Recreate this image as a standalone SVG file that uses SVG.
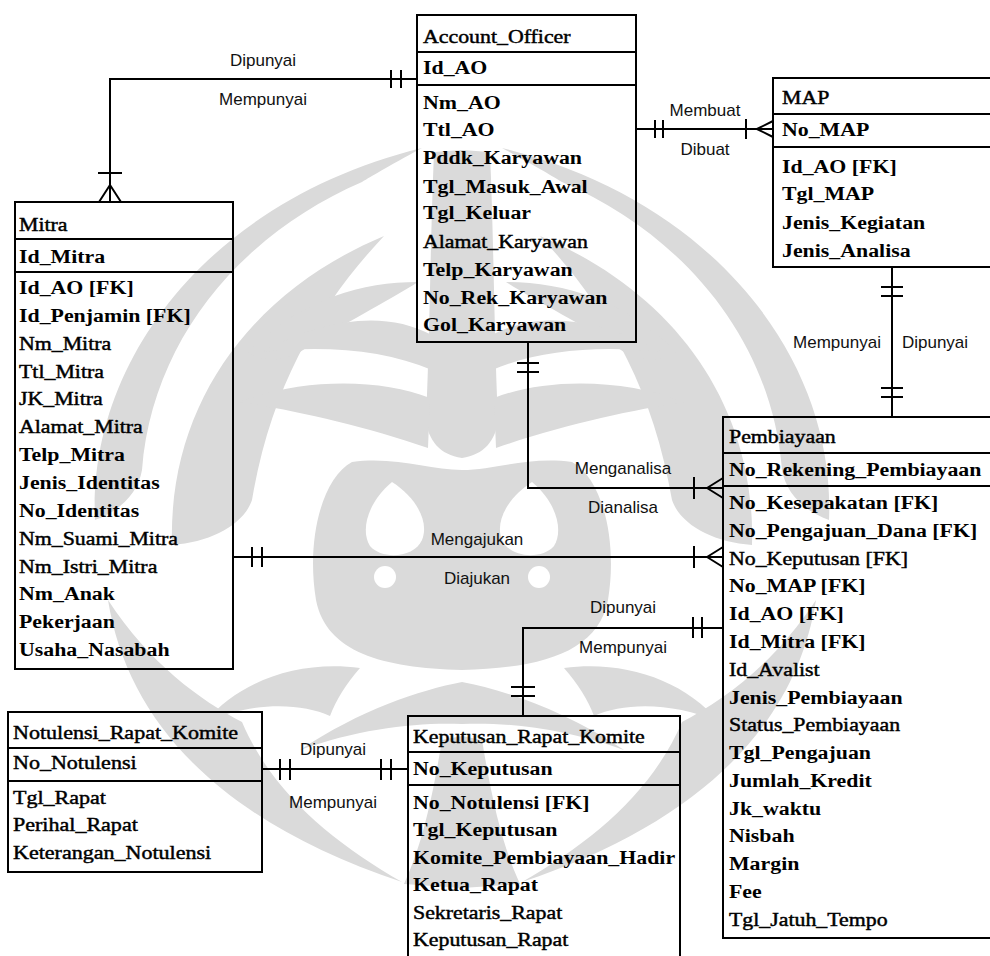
<svg xmlns="http://www.w3.org/2000/svg" xmlns:xlink="http://www.w3.org/1999/xlink" width="990" height="956" viewBox="0 0 990 956">
  <style>
    .box{fill:none;stroke:#000;stroke-width:2}
    .sep{stroke:#000;stroke-width:2}
    .ln{fill:none;stroke:#000;stroke-width:2}
    .mk{fill:none;stroke:#000;stroke-width:2}
    .et{font-family:"Liberation Serif","Times New Roman",serif;font-size:19px;font-weight:bold;fill:#000}
    .et .r{font-weight:normal;stroke:#000;stroke-width:0.45}
    .lb{font-family:"Liberation Sans",Arial,sans-serif;font-size:17px;fill:#111;text-anchor:middle}
    .wm{fill:#dadada}
    .wh{fill:#fff}
  </style>
  <defs>
    <!-- left half of the background emblem; mirrored about x=462 -->
    <g id="emblemHalf">
      <!-- upper leaves -->
      <path class="wm" d="M95,520 C88,360 210,200 422,148 C385,168 372,176 362,182 C238,236 152,342 142,470 C138,492 122,510 95,520 Z"/>
      <path class="wm" d="M172,545 C168,405 250,292 384,236 C322,302 272,382 252,500 C244,524 212,542 172,545 Z"/>
      <path class="wm" d="M248,352 C300,300 360,282 418,282 C390,300 340,325 300,352 C282,362 262,362 248,352 Z"/>
      <!-- trunk and branching arms -->
      <path class="wm" d="M462,150 L434,152 C430,250 430,330 426,420 C428,440 440,455 462,458 Z"/>
      <path class="wm" d="M430,398 C380,378 300,378 240,402 C292,410 362,425 428,448 Z"/>
      <path class="wm" d="M432,335 C385,310 325,318 262,352 C325,345 385,350 432,370 Z"/>
      <!-- bell with curled eye -->
      <path class="wm" d="M462,470 C430,470 395,456 352,462 C322,478 306,540 316,600 C326,652 382,668 462,670 Z"/>
      <path class="wh" d="M392,482 C368,502 360,530 370,546 C382,560 414,558 422,540 C430,520 414,496 392,482 Z"/>
      <circle class="wh" cx="385" cy="577" r="11"/>
      <!-- lower wings -->
      <path class="wm" d="M462,682 C420,690 360,710 300,750 C360,728 420,722 462,724 Z"/>
      <path class="wm" d="M360,668 C300,660 240,680 205,722 C250,702 300,702 330,716 C336,700 346,684 360,668 Z"/>
      <path class="wm" d="M108,600 C128,724 222,822 402,882 C332,842 272,792 242,722 C200,700 150,664 108,600 Z"/>
      <path class="wm" d="M462,736 L442,740 C432,800 422,845 404,884 L462,888 Z"/>
    </g>
  </defs>

  <!-- background emblem -->
  <g id="emblem">
    <use xlink:href="#emblemHalf"/>
    <use xlink:href="#emblemHalf" transform="matrix(-1 0 0 1 924 0)"/>
  </g>

  <!-- relationship lines -->
  <g id="connectors">
    <path class="ln" d="M417,79 H110 V202"/>
    <path class="ln" d="M636,129 H773"/>
    <path class="ln" d="M892,267 V417"/>
    <path class="ln" d="M528,342 V488 H723"/>
    <path class="ln" d="M233,557 H723"/>
    <path class="ln" d="M523,716 V628 H723"/>
    <path class="ln" d="M262,769 H408"/>

    <!-- cardinality marks -->
    <path class="mk" d="M391,70 V88 M401,70 V88"/>
    <path class="mk" d="M98,173 H122 M110,185 L99,202 M110,185 V202 M110,185 L121,202"/>

    <path class="mk" d="M655,120 V138 M663,120 V138"/>
    <path class="mk" d="M746,119 V139 M757,129 L773,121 M757,129 H773 M757,129 L773,137"/>

    <path class="mk" d="M881,287 H903 M881,296 H903"/>
    <path class="mk" d="M881,388 H903 M881,397 H903"/>

    <path class="mk" d="M517,363 H539 M517,372 H539"/>
    <path class="mk" d="M694,477 V499 M707,488 L723,478 M707,488 H723 M707,488 L723,498"/>

    <path class="mk" d="M252,547 V567 M262,547 V567"/>
    <path class="mk" d="M694,546 V568 M707,557 L723,547 M707,557 H723 M707,557 L723,567"/>

    <path class="mk" d="M693,617 V638 M702,617 V638"/>
    <path class="mk" d="M511,687 H535 M511,696 H535"/>

    <path class="mk" d="M280,759 V780 M290,759 V780"/>
    <path class="mk" d="M381,759 V780 M391,759 V780"/>

    <!-- verb phrases -->
    <text class="lb" x="263" y="66">Dipunyai</text>
    <text class="lb" x="263" y="105">Mempunyai</text>
    <text class="lb" x="705" y="116">Membuat</text>
    <text class="lb" x="705" y="155">Dibuat</text>
    <text class="lb" x="837" y="348">Mempunyai</text>
    <text class="lb" x="935" y="348">Dipunyai</text>
    <text class="lb" x="623" y="474">Menganalisa</text>
    <text class="lb" x="623" y="513">Dianalisa</text>
    <text class="lb" x="477" y="545">Mengajukan</text>
    <text class="lb" x="477" y="584">Diajukan</text>
    <text class="lb" x="623" y="613">Dipunyai</text>
    <text class="lb" x="623" y="653">Mempunyai</text>
    <text class="lb" x="333" y="755">Dipunyai</text>
    <text class="lb" x="333" y="808">Mempunyai</text>
  </g>

  <!-- Account_Officer -->
  <g id="account_officer">
    <rect class="box" x="417" y="15" width="219" height="327"/>
    <line class="sep" x1="417" y1="52" x2="636" y2="52"/>
    <line class="sep" x1="417" y1="85" x2="636" y2="85"/>
    <g class="et" transform="translate(423,0) scale(1.15,1)">
      <text class="r" y="43">Account_Officer</text>
      <text y="74">Id_AO</text>
      <text y="109">Nm_AO</text>
      <text y="136">Ttl_AO</text>
      <text y="164">Pddk_Karyawan</text>
      <text y="193">Tgl_Masuk_Awal</text>
      <text y="219">Tgl_Keluar</text>
      <text class="r" y="248">Alamat_Karyawan</text>
      <text y="276">Telp_Karyawan</text>
      <text y="304">No_Rek_Karyawan</text>
      <text y="331">Gol_Karyawan</text>
    </g>
  </g>

  <!-- MAP -->
  <g id="map">
    <rect class="box" x="773" y="78" width="240" height="189"/>
    <line class="sep" x1="773" y1="114" x2="1000" y2="114"/>
    <line class="sep" x1="773" y1="147" x2="1000" y2="147"/>
    <g class="et" transform="translate(782,0) scale(1.15,1)">
      <text class="r" y="104">MAP</text>
      <text y="136">No_MAP</text>
      <text y="173">Id_AO [FK]</text>
      <text y="200">Tgl_MAP</text>
      <text y="229">Jenis_Kegiatan</text>
      <text y="257">Jenis_Analisa</text>
    </g>
  </g>

  <!-- Mitra -->
  <g id="mitra">
    <rect class="box" x="15" y="202" width="218" height="467"/>
    <line class="sep" x1="15" y1="239" x2="233" y2="239"/>
    <line class="sep" x1="15" y1="272" x2="233" y2="272"/>
    <g class="et" transform="translate(19,0) scale(1.15,1)">
      <text class="r" y="231">Mitra</text>
      <text y="263">Id_Mitra</text>
      <text y="294">Id_AO [FK]</text>
      <text y="322">Id_Penjamin [FK]</text>
      <text class="r" y="350">Nm_Mitra</text>
      <text class="r" y="378">Ttl_Mitra</text>
      <text class="r" y="405">JK_Mitra</text>
      <text class="r" y="433">Alamat_Mitra</text>
      <text y="461">Telp_Mitra</text>
      <text y="489">Jenis_Identitas</text>
      <text y="517">No_Identitas</text>
      <text class="r" y="545">Nm_Suami_Mitra</text>
      <text class="r" y="573">Nm_Istri_Mitra</text>
      <text y="600">Nm_Anak</text>
      <text y="628">Pekerjaan</text>
      <text y="656">Usaha_Nasabah</text>
    </g>
  </g>

  <!-- Pembiayaan -->
  <g id="pembiayaan">
    <rect class="box" x="723" y="417" width="290" height="521"/>
    <line class="sep" x1="723" y1="453" x2="1000" y2="453"/>
    <line class="sep" x1="723" y1="486" x2="1000" y2="486"/>
    <g class="et" transform="translate(729,0) scale(1.15,1)">
      <text class="r" y="443">Pembiayaan</text>
      <text y="476">No_Rekening_Pembiayaan</text>
      <text y="509">No_Kesepakatan [FK]</text>
      <text y="537">No_Pengajuan_Dana [FK]</text>
      <text class="r" y="565">No_Keputusan [FK]</text>
      <text y="592">No_MAP [FK]</text>
      <text y="620">Id_AO [FK]</text>
      <text y="648">Id_Mitra [FK]</text>
      <text class="r" y="676">Id_Avalist</text>
      <text y="704">Jenis_Pembiayaan</text>
      <text class="r" y="731">Status_Pembiayaan</text>
      <text y="759">Tgl_Pengajuan</text>
      <text y="787">Jumlah_Kredit</text>
      <text y="815">Jk_waktu</text>
      <text y="842">Nisbah</text>
      <text y="870">Margin</text>
      <text y="898">Fee</text>
      <text class="r" y="926">Tgl_Jatuh_Tempo</text>
    </g>
  </g>

  <!-- Notulensi_Rapat_Komite -->
  <g id="notulensi_rapat_komite">
    <rect class="box" x="8" y="712" width="254" height="160"/>
    <line class="sep" x1="8" y1="748" x2="262" y2="748"/>
    <line class="sep" x1="8" y1="781" x2="262" y2="781"/>
    <g class="et" transform="translate(13,0) scale(1.16,1)">
      <text class="r" y="739">Notulensi_Rapat_Komite</text>
      <text class="r" y="769">No_Notulensi</text>
      <text class="r" y="804">Tgl_Rapat</text>
      <text class="r" y="831">Perihal_Rapat</text>
      <text class="r" y="859">Keterangan_Notulensi</text>
    </g>
  </g>

  <!-- Keputusan_Rapat_Komite -->
  <g id="keputusan_rapat_komite">
    <rect class="box" x="408" y="716" width="272" height="250"/>
    <line class="sep" x1="408" y1="752" x2="680" y2="752"/>
    <line class="sep" x1="408" y1="785" x2="680" y2="785"/>
    <g class="et" transform="translate(413,0) scale(1.15,1)">
      <text class="r" y="743">Keputusan_Rapat_Komite</text>
      <text y="775">No_Keputusan</text>
      <text y="809">No_Notulensi [FK]</text>
      <text y="836">Tgl_Keputusan</text>
      <text y="864">Komite_Pembiayaan_Hadir</text>
      <text y="891">Ketua_Rapat</text>
      <text class="r" y="919">Sekretaris_Rapat</text>
      <text class="r" y="946">Keputusan_Rapat</text>
    </g>
  </g>
</svg>
